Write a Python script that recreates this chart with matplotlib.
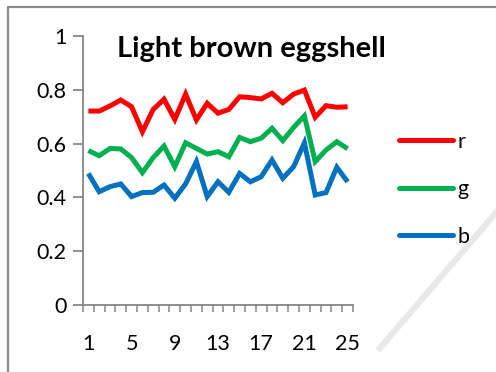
import matplotlib
matplotlib.use("Agg")
import matplotlib.pyplot as plt
from matplotlib.lines import Line2D

# Sample index and mean channel values of the eggshell colour
samples = list(range(1, 26))
r_vals = [0.721, 0.721, 0.740, 0.762, 0.737, 0.644, 0.727, 0.765, 0.690, 0.784,
          0.688, 0.750, 0.713, 0.727, 0.774, 0.771, 0.766, 0.787, 0.752, 0.784,
          0.799, 0.698, 0.741, 0.735, 0.737]
g_vals = [0.574, 0.555, 0.582, 0.580, 0.548, 0.492, 0.548, 0.591, 0.514, 0.603,
          0.582, 0.561, 0.570, 0.551, 0.623, 0.607, 0.620, 0.657, 0.611, 0.660,
          0.703, 0.533, 0.576, 0.607, 0.581]
b_vals = [0.489, 0.421, 0.440, 0.450, 0.403, 0.418, 0.419, 0.446, 0.397, 0.450,
          0.533, 0.403, 0.458, 0.419, 0.489, 0.458, 0.477, 0.539, 0.471, 0.514,
          0.603, 0.409, 0.418, 0.512, 0.458]
series_names = ["r", "g", "b"]
series_colors = ["#FF0000", "#00B050", "#0070C0"]
x_tick_labels = [1, 5, 9, 13, 17, 21, 25]
y_ticks = [0, 0.2, 0.4, 0.6, 0.8, 1]

plt.rcParams["font.family"] = ["Lato", "DejaVu Sans"]

fig = plt.figure(figsize=(4.96, 3.72), dpi=100)
ax = fig.add_axes([83 / 496, 1 - 305 / 372, 270 / 496, 269 / 372])

for vals, name, col in zip([r_vals, g_vals, b_vals], series_names, series_colors):
    ax.plot(samples, vals, color=col, lw=3.6, label=name,
            solid_joinstyle="miter", solid_capstyle="butt")

ax.set_xlim(0.5, 25.5)
ax.set_ylim(0, 1)

spine_col = "#868686"
for side in ["top", "right"]:
    ax.spines[side].set_visible(False)
for side in ["left", "bottom"]:
    ax.spines[side].set_color(spine_col)
    ax.spines[side].set_linewidth(1.3)

ax.set_yticks(y_ticks)
ax.set_yticklabels(["0", "0.2", "0.4", "0.6", "0.8", "1"])
ax.tick_params(axis="y", direction="out", length=7, width=1.3, color=spine_col,
               labelsize=15.5, pad=5)

ax.set_xticks(x_tick_labels)
ax.set_xticklabels([str(v) for v in x_tick_labels])
ax.set_xticks([i + 0.5 for i in range(0, 26)], minor=True)
ax.tick_params(axis="x", which="major", length=0, labelsize=15.5, pad=21)
ax.tick_params(axis="x", which="minor", direction="out", length=5, width=1.1,
               color=spine_col)

ax.text(34 / 270, 1 - 13 / 269, "Light brown eggshell", transform=ax.transAxes,
        fontsize=21, fontweight="bold", ha="left", va="center")

handles = [Line2D([0], [0], color=c, lw=3.6, solid_capstyle="round") for c in series_colors]
fig.legend(handles, series_names, loc="upper left",
           bbox_to_anchor=(399 / 496, 1 - 132 / 372), frameon=False,
           fontsize=15.5, handlelength=2.5, handletextpad=0.2, labelspacing=1.27,
           borderaxespad=0, borderpad=0)

# Chart frame and light diagonal streak
fig.add_artist(Line2D([7.5 / 496, 7.5 / 496, 1.0], [0, 1 - 7 / 372, 1 - 7 / 372],
                      transform=fig.transFigure, color="#8c8c8c", lw=1.6))
fig.add_artist(Line2D([380 / 496, 500 / 496], [1 - 348 / 372, 1 - 208 / 372],
                      transform=fig.transFigure, color="#e8e8e8", lw=4.5, zorder=0))

fig.savefig("out.png", dpi=100)
